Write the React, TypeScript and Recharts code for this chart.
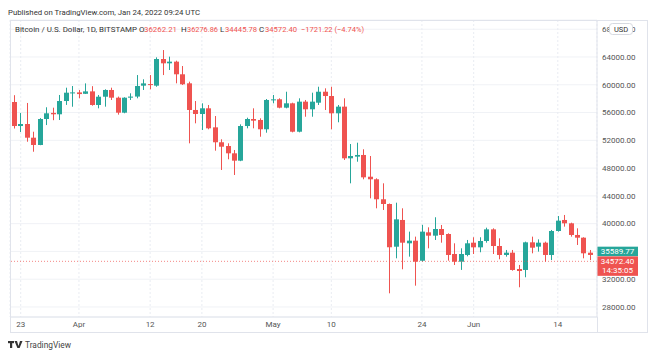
import React from 'react';
import { ComposedChart, Bar, XAxis, YAxis, CartesianGrid, ReferenceLine } from 'recharts';

const UP = '#26a69a';
const DOWN = '#ef5350';
const FONT = 'Roboto, "Liberation Sans", sans-serif';

// daily candles, Mar 22 .. Jun 19
const MONTHS = ['Jan', 'Feb', 'Mar', 'Apr', 'May', 'Jun', 'Jul', 'Aug', 'Sep', 'Oct', 'Nov', 'Dec'];
const firstDay = Date.UTC(2021, 2, 22);
const days: string[] = Array.from({ length: 90 }, (_, i) => {
  const d = new Date(firstDay + i * 86400000);
  return `${MONTHS[d.getUTCMonth()]} ${d.getUTCDate()}`;
});

const open = [
  57520, 54060, 54350, 52380, 51330, 55070, 55950, 55750, 57660, 58800,
  58900, 58700, 59050, 57090, 58280, 59250, 58140, 55980, 58140, 58300,
  59870, 60100, 59870, 63710, 63090, 63330, 61510, 60210, 56370, 55790,
  56610, 53870, 51720, 51180, 50130, 49070, 54060, 55070, 54930, 53590,
  57810, 57910, 56700, 57330, 53240, 57570, 56470, 57420, 59000, 58380,
  55890, 56850, 49410, 49650, 49890, 46760, 46390, 43510, 42830, 36680,
  40530, 37170, 37550, 34660, 38750, 38270, 39230, 38510, 35630, 34520,
  35490, 37260, 36590, 37500, 39180, 36780, 35490, 35820, 33470, 33330,
  37310, 36690, 37260, 35490, 38940, 40530, 40050, 38370, 37980, 35820,
];
const high = [
  58500, 55930, 57380, 53240, 55200, 56760, 56700, 58530, 59580, 59820,
  59250, 60200, 59800, 58530, 59350, 59580, 58300, 58200, 58770, 61400,
  60790, 61400, 63950, 65000, 64050, 63470, 62700, 60450, 57660, 57330,
  57090, 55500, 52150, 51570, 50610, 54300, 55260, 56610, 55170, 57950,
  58530, 58050, 59000, 57420, 58050, 57810, 58860, 59720, 59490, 59720,
  57090, 58050, 51470, 51660, 50710, 49740, 46530, 45810, 42900, 43020,
  42210, 38850, 38130, 39830, 39470, 40920, 39810, 38610, 37170, 36450,
  37650, 38040, 38040, 39420, 39330, 37890, 36210, 36210, 34050, 37410,
  38130, 37740, 37410, 39090, 41100, 41250, 40140, 39330, 38040, 36210,
];
const low = [
  53700, 53200, 51800, 50360, 51300, 54200, 54900, 54930, 57100, 56840,
  58050, 58670, 56990, 56610, 56850, 57810, 55700, 55900, 57810, 58050,
  59250, 59350, 59720, 61400, 62130, 60210, 59970, 51570, 54450, 53490,
  53590, 50510, 47730, 49270, 47010, 49000, 53730, 53730, 52520, 53100,
  57330, 56610, 56610, 53150, 53150, 55400, 55400, 57090, 56370, 53590,
  54600, 49170, 45810, 48920, 46390, 43650, 42210, 41970, 29970, 35010,
  33430, 35250, 31070, 34520, 36450, 37650, 37260, 34670, 34050, 33340,
  35300, 35630, 35880, 37260, 35630, 34870, 35250, 33230, 30840, 32280,
  35730, 35970, 34520, 34760, 38850, 39570, 38130, 36930, 35010, 34760,
];
const close = [
  54060, 54350, 52380, 51330, 55070, 55890, 55750, 57660, 58860, 58900,
  58660, 59050, 57090, 58280, 59250, 58140, 55980, 58140, 58300, 59820,
  60200, 59970, 63710, 63090, 63330, 61510, 60070, 56370, 55790, 56610,
  53730, 51720, 51080, 50130, 49070, 54060, 55070, 54830, 53590, 57810,
  57900, 56700, 57330, 53240, 57570, 56470, 57570, 59000, 58380, 55890,
  56850, 49410, 49740, 49890, 46670, 46390, 43510, 42830, 36600, 40620,
  37260, 37550, 34520, 38850, 38270, 39230, 38370, 35490, 34520, 35630,
  37170, 36590, 37500, 39180, 36780, 35490, 35820, 33330, 33180, 37310,
  36540, 37260, 35490, 38940, 40430, 40050, 38370, 37980, 35730, 35490,
];

const tickDays = ['Mar 23', 'Apr 1', 'Apr 12', 'Apr 20', 'May 1', 'May 10', 'May 24', 'Jun 1', 'Jun 14'];
const priceTicks = [28000, 32000, 36000, 40000, 44000, 48000, 52000, 56000, 60000, 64000, 68000];
const hiddenTick = 36000; // sits under the price tags
const lastPrice = 34572.4;
const markPrice = 35589.77;

const data = days.map((day, i) => ({
  day,
  range: [low[i], high[i]],
  open: open[i],
  high: high[i],
  low: low[i],
  close: close[i],
}));

const Candle = (props: any) => {
  let { x, y, width, height, payload } = props;
  if (height < 0) {
    y += height;
    height = -height;
  }
  const color = payload.close >= payload.open ? UP : DOWN;
  const k = height / (payload.high - payload.low);
  const yO = y + (payload.high - payload.open) * k;
  const yC = y + (payload.high - payload.close) * k;
  const px = Math.round(x + width / 2);
  const top = Math.min(yO, yC);
  const h = Math.max(1, Math.abs(yO - yC));
  return (
    <g>
      <rect x={px} y={y} width={1} height={height} fill={color} />
      <rect x={px - 2} y={top} width={5} height={h} fill={color} />
    </g>
  );
};

const PriceTick = (props: any) => {
  const { x, y, payload } = props;
  if (payload.value === hiddenTick) return <g />;
  return (
    <text x={x} y={y} dy="0.355em" fontSize={8} fill="#555" fontFamily={FONT} textAnchor="start">
      {Number(payload.value).toFixed(2)}
    </text>
  );
};

const LastTag = (props: any) => {
  const { viewBox } = props;
  const x = viewBox.x + viewBox.width;
  const y = viewBox.y;
  return (
    <g>
      <rect x={x} y={y - 5} width={41} height={19.5} fill={DOWN} />
      <text x={x + 20.5} y={y + 3} fontSize={8} fill="#fff" textAnchor="middle" fontFamily={FONT}>
        {lastPrice.toFixed(2)}
      </text>
      <text x={x + 20.5} y={y + 12} fontSize={8} fill="#fff" textAnchor="middle" fontFamily={FONT}>
        14:35:05
      </text>
    </g>
  );
};

const MarkTag = (props: any) => {
  const { viewBox } = props;
  const x = viewBox.x + viewBox.width;
  const y = viewBox.y;
  return (
    <g>
      <rect x={x} y={y - 7.6} width={41} height={9.4} fill={UP} />
      <text x={x + 20.5} y={y - 0.2} fontSize={8} fill="#fff" textAnchor="middle" fontFamily={FONT}>
        {markPrice.toFixed(2)}
      </text>
    </g>
  );
};

const dayLabel = (d: string) => {
  const [m, n] = d.split(' ');
  return n === '1' ? m : n;
};

export default function App() {
  return (
    <div style={{ position: 'absolute', left: 0, top: 0, width: 670, height: 355, background: '#fff' }}>
      <ComposedChart
        width={670}
        height={355}
        data={data}
        margin={{ top: 20, right: 22, left: 10, bottom: 22 }}
        barCategoryGap={0}
      >
        <CartesianGrid horizontal={true} vertical={false} stroke="#f0f2f6" />
        <CartesianGrid horizontal={false} vertical={true} stroke="#e9ecf2" strokeDasharray="2 2" />
        <XAxis
          dataKey="day"
          ticks={tickDays}
          interval={0}
          tickFormatter={dayLabel}
          padding={{ left: 1, right: 3.6 }}
          height={16}
          tickLine={false}
          tickSize={0}
          tickMargin={4}
          axisLine={{ stroke: '#e0e3eb' }}
          tick={{ fontSize: 8, fill: '#555', fontFamily: FONT }}
        />
        <YAxis
          orientation="right"
          domain={[26557, 69328]}
          allowDataOverflow
          ticks={priceTicks}
          width={51}
          tickLine={false}
          tickSize={0}
          tickMargin={5}
          axisLine={{ stroke: '#e0e3eb' }}
          tick={<PriceTick />}
        />
        <ReferenceLine y={lastPrice} stroke={DOWN} strokeOpacity={0.7} strokeDasharray="1 2" label={<LastTag />} />
        <ReferenceLine y={markPrice} stroke="none" label={<MarkTag />} />
        <Bar dataKey="range" shape={<Candle />} isAnimationActive={false} />
      </ComposedChart>
      <svg
        width={670}
        height={355}
        style={{ position: 'absolute', left: 0, top: 0, pointerEvents: 'none' }}
        fontFamily={FONT}
      >
        <rect x={10.5} y={20.5} width={637} height={312} fill="none" stroke="#e0e3eb" />
        <line x1={597.5} y1={317} x2={597.5} y2={333} stroke="#e0e3eb" />
        <text x={8} y={15} fontSize={8} fill="#333" textLength={192} lengthAdjust="spacingAndGlyphs">
          Published on TradingView.com, Jan 24, 2022 09:24 UTC
        </text>
        <g fontSize={8}>
          <text x={15} y={32} fill="#333" textLength={122} lengthAdjust="spacingAndGlyphs">
            Bitcoin / U.S. Dollar, 1D, BITSTAMP
          </text>
          <text x={139} y={32} fill="#333">O</text>
          <text x={144} y={32} fill={DOWN} textLength={33} lengthAdjust="spacingAndGlyphs">36262.21</text>
          <text x={181} y={32} fill="#333">H</text>
          <text x={187} y={32} fill={DOWN} textLength={31} lengthAdjust="spacingAndGlyphs">36276.86</text>
          <text x={220} y={32} fill="#333">L</text>
          <text x={225} y={32} fill={DOWN} textLength={32} lengthAdjust="spacingAndGlyphs">34445.78</text>
          <text x={259} y={32} fill="#333">C</text>
          <text x={265} y={32} fill={DOWN} textLength={32} lengthAdjust="spacingAndGlyphs">34572.40</text>
          <text x={301} y={32} fill={DOWN} textLength={63} lengthAdjust="spacingAndGlyphs">
            −1721.22 (−4.74%)
          </text>
        </g>
        <rect x={609.5} y={23.5} width={23} height={11} rx={3} fill="#fff" stroke="#d6d9e0" />
        <text x={621} y={32} fontSize={7.5} fill="#333" textAnchor="middle">USD</text>
        <g fill="#333">
          <rect x={8} y={341} width={6} height={2.2} />
          <rect x={10} y={341} width={2.2} height={7} />
          <path d="M14.5 341 L17 341 L18.5 346 L20 341 L22.5 341 L19.6 348 L17.4 348 Z" />
        </g>
        <text x={25} y={348} fontSize={8.5} fill="#444" textLength={46} lengthAdjust="spacingAndGlyphs">
          TradingView
        </text>
      </svg>
    </div>
  );
}
